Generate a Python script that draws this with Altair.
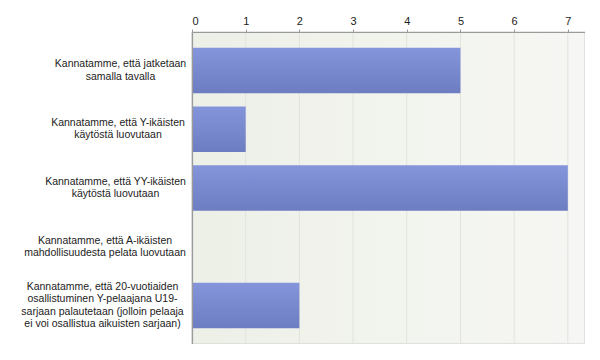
import altair as alt
import pandas as pd

categories = [
    "Kannatamme, että jatketaan\nsamalla tavalla",
    "Kannatamme, että Y-ikäisten\nkäytöstä luovutaan",
    "Kannatamme, että YY-ikäisten\nkäytöstä luovutaan",
    "Kannatamme, että A-ikäisten\nmahdollisuudesta pelata luovutaan",
    "Kannatamme, että 20-vuotiaiden\nosallistuminen Y-pelaajana U19-\nsarjaan palautetaan (jolloin pelaaja\nei voi osallistua aikuisten sarjaan)",
]
counts = [5, 1, 7, 0, 2]
tick_values = [0, 1, 2, 3, 4, 5, 6, 7]

# style: per-label padding so that multi-line centred blocks end next to the axis
label_pad = [
    ("samalla", 72),
    ("että Y-", 74.5),
    ("YY-", 77),
    ("A-ik", 87.5),
    ("20-vuot", 90),
]

W, H = 393, 312
FONT = "Liberation Sans"
LH = 12.5

df = pd.DataFrame({"label": categories, "count": counts})
grid_df = pd.DataFrame({"t": tick_values})

x_scale = alt.Scale(domain=[0, 7.32], nice=False, zero=True)

bg_grad = alt.LinearGradient(
    gradient="linear",
    stops=[alt.GradientStop(color="#edf0e7", offset=0),
           alt.GradientStop(color="#f6f7f4", offset=1)],
    x1=0, x2=1, y1=0, y2=0,
)
bar_grad = alt.LinearGradient(
    gradient="linear",
    stops=[alt.GradientStop(color="#8595db", offset=0),
           alt.GradientStop(color="#6d7dc1", offset=1)],
    x1=0, x2=0, y1=0, y2=1,
)

x_axis = alt.Axis(
    orient="top", title=None, values=tick_values, format="d",
    grid=False, domainColor="#9a9a9a", domainWidth=1.2,
    tickColor="#9a9a9a", tickSize=3, labelPadding=3,
    labelFont=FONT, labelFontSize=11, labelColor="#222222",
    zindex=1,
)

bg = alt.Chart(pd.DataFrame({"bg": [0]})).mark_rect(
    fill=bg_grad, stroke="#cfcfcf", strokeWidth=1
).encode(
    x=alt.value(0), x2=alt.value(W), y=alt.value(0), y2=alt.value(H)
)

grid = alt.Chart(grid_df).mark_rule(color="#e1e3dc", strokeWidth=1).encode(
    x=alt.X("t:Q", scale=x_scale, axis=x_axis)
)

pad_cond = {
    "condition": [
        {"test": f"indexof(datum.value, '{k}') >= 0", "value": v}
        for k, v in label_pad
    ],
    "value": 80,
}
offset_cond = {
    "condition": {"test": "indexof(datum.value, '20-vuot') >= 0", "value": -1.5 * LH},
    "value": -0.5 * LH,
}

bars = alt.Chart(df).mark_bar(fill=bar_grad).encode(
    x=alt.X("count:Q", scale=x_scale, axis=x_axis),
    y=alt.Y(
        "label:N",
        sort=None,
        scale=alt.Scale(paddingInner=0.226, paddingOuter=0.266),
        axis=alt.Axis(
            title=None, ticks=False, domainColor="#9a9a9a", domainWidth=1.2,
            labelExpr="split(datum.label, '\\n')",
            labelAlign="center", labelBaseline="middle",
            labelPadding=pad_cond, labelOffset=offset_cond, labelLimit=0,
            labelFont=FONT, labelFontSize=10.5, labelLineHeight=LH,
            labelColor="#222222", zindex=1,
        ),
    ),
)

chart = alt.layer(bg, grid, bars).properties(
    width=W, height=H, autosize="none",
    padding={"left": 184, "top": 24, "right": 0, "bottom": 0},
).configure_view(stroke=None)

chart.save("out.html", embed_options={"renderer": "svg", "actions": False})
